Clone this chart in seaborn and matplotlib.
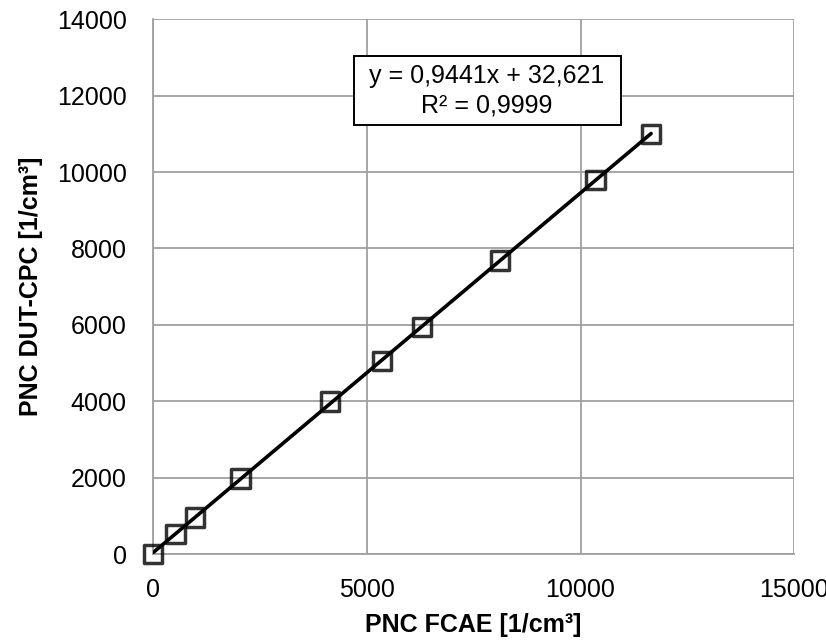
import matplotlib
matplotlib.use("Agg")
import matplotlib.pyplot as plt
from matplotlib.patches import Rectangle
import seaborn as sns
import numpy as np
import pandas as pd

x_fcae = [0, 530, 980, 2050, 4140, 5350, 6290, 8110, 10350, 11650]
y_dut = [0, 525, 960, 1980, 3990, 5060, 5950, 7680, 9790, 10990]
x_ticks = [0, 5000, 10000, 15000]
y_ticks = [0, 2000, 4000, 6000, 8000, 10000, 12000, 14000]
eq_text = "y = 0,9441x + 32,621\nR² = 0,9999"
x_label = "PNC FCAE [1/cm³]"
y_label = "PNC DUT-CPC [1/cm³]"

df = pd.DataFrame({"x": x_fcae, "y": y_dut})

sns.set_theme(style="white")
plt.rcParams['font.family'] = ['Liberation Sans', 'DejaVu Sans']
plt.rcParams['text.color'] = 'black'
plt.rcParams['axes.labelcolor'] = 'black'

fig = plt.figure(figsize=(8.26, 6.4), dpi=100)
ax = fig.add_axes([153/826, 1-554/640, (794.3-153)/826, (554-19.3)/640])

sns.regplot(data=df, x="x", y="y", ax=ax, ci=None, marker="s",
            scatter_kws=dict(s=175, facecolors="none", edgecolors="black",
                             linewidths=2.5, clip_on=False, zorder=4),
            line_kws=dict(color="black", lw=2.6, zorder=3))

ax.set_xlim(0, 15000)
ax.set_ylim(0, 14000)
ax.set_xticks(x_ticks)
ax.set_yticks(y_ticks)
ax.grid(True, color="#a0a0a0", lw=1.3)
ax.set_axisbelow(True)
for s in ["top", "right"]:
    ax.spines[s].set_visible(False)
for s in ["left", "bottom"]:
    ax.spines[s].set_color("#a0a0a0")
    ax.spines[s].set_linewidth(1.3)
ax.tick_params(axis="both", which="major", direction="out", length=6,
               width=1.3, color="#a0a0a0", labelsize=18, labelcolor="black")
ax.tick_params(axis="y", pad=13)
ax.tick_params(axis="x", pad=11)

ax.set_xlabel(x_label, fontsize=18, fontweight="bold", labelpad=8, color="black")
ax.set_ylabel(y_label, fontsize=18, fontweight="bold", labelpad=10, color="black")

ax.add_patch(Rectangle((0.3134, 0.8023), 0.4163, 0.129, transform=ax.transAxes,
                       facecolor="white", edgecolor="black", lw=1.4, zorder=5,
                       clip_on=False))
ax.text(0.5206, 0.8668, eq_text, transform=ax.transAxes, ha="center", va="center",
        fontsize=18, linespacing=1.3, zorder=6, color="black")

fig.savefig("out.png", dpi=100)
